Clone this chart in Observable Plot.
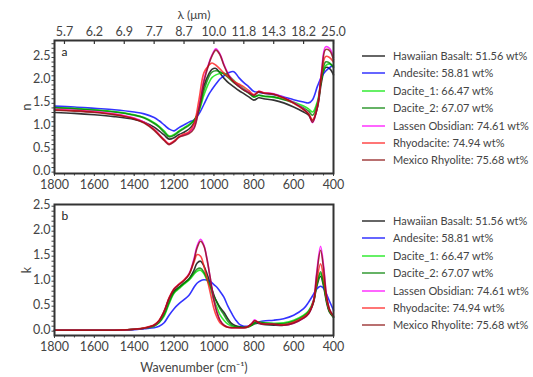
<!DOCTYPE html>
<html>
<head>
<meta charset="utf-8">
<script src="https://cdn.jsdelivr.net/npm/d3@7"></script>
<script src="https://cdn.jsdelivr.net/npm/@observablehq/plot@0.6"></script>
<style>
  html, body { margin: 0; padding: 0; background: #fff; }
  #wrap { position: relative; width: 533px; height: 377px; font-family: Lato, "Open Sans", sans-serif; overflow: hidden; }
  #wrap svg { position: absolute; left: 0; overflow: visible; }
  .lgd { position: absolute; left: 362px; font-size: 11px; color: #444; }
  .lgd .row { position: absolute; left: 0; height: 14px; white-space: nowrap; }
  .lgd .sw { position: absolute; left: 0; top: 6px; width: 23px; height: 2px; }
  .lgd .lb { position: absolute; left: 31px; top: 0; line-height: 14px; }
</style>
</head>
<body>
<div id="wrap"></div>
<script>
// ---------------- data ----------------
const seriesNames = ["Hawaiian Basalt: 51.56 wt%", "Andesite: 58.81 wt%", "Dacite_1: 66.47 wt%", "Dacite_2: 67.07 wt%", "Lassen Obsidian: 74.61 wt%", "Rhyodacite: 74.94 wt%", "Mexico Rhyolite: 75.68 wt%"];
const seriesColors = ["#000000", "#0000ff", "#00e600", "#008000", "#ff00ff", "#ff1a1a", "#8b1010"];

// refractive index n, wavenumber grid (cm^-1)
const wnN = [1800,1700,1600,1500,1400,1350,1300,1275,1250,1225,1200,1175,1150,1125,1100,1075,1050,1025,1010,990,970,950,925,900,875,850,825,800,775,750,700,650,600,550,525,505,480,460,440,420,400];
const nBasalt   = [1.30,1.28,1.25,1.21,1.15,1.09,0.98,0.90,0.81,0.72,0.75,0.82,0.87,0.94,1.07,1.38,1.88,2.15,2.24,2.26,2.16,2.05,1.94,1.86,1.78,1.71,1.64,1.57,1.62,1.60,1.57,1.51,1.42,1.31,1.24,1.13,1.42,1.97,2.28,2.26,2.12];
const nAndesite = [1.44,1.42,1.39,1.36,1.31,1.27,1.19,1.12,1.03,0.94,0.90,0.97,1.03,1.09,1.14,1.27,1.48,1.70,1.80,1.92,2.03,2.10,2.17,2.19,2.06,1.95,1.86,1.76,1.74,1.72,1.69,1.64,1.58,1.53,1.51,1.58,1.88,2.08,2.20,2.28,2.33];
const nDacite1  = [1.41,1.39,1.36,1.32,1.25,1.19,1.08,1.00,0.90,0.79,0.82,0.90,0.97,1.04,1.13,1.33,1.68,1.95,2.06,2.12,2.15,2.16,2.10,2.00,1.90,1.82,1.74,1.64,1.67,1.65,1.63,1.59,1.53,1.44,1.38,1.31,1.55,2.05,2.32,2.36,2.30];
const nDacite2  = [1.40,1.38,1.35,1.31,1.24,1.18,1.06,0.98,0.87,0.77,0.80,0.88,0.95,1.02,1.12,1.36,1.78,2.08,2.18,2.21,2.19,2.14,2.05,1.95,1.87,1.79,1.72,1.64,1.68,1.66,1.64,1.58,1.51,1.40,1.33,1.24,1.50,2.05,2.40,2.38,2.28];
const nLassen   = [1.37,1.35,1.32,1.27,1.18,1.09,0.93,0.82,0.71,0.61,0.67,0.77,0.81,0.86,0.98,1.42,2.02,2.38,2.55,2.69,2.58,2.35,2.12,1.98,1.88,1.80,1.74,1.68,1.76,1.73,1.71,1.63,1.52,1.38,1.27,1.08,1.45,2.20,2.73,2.70,2.50];
const nRhyodac  = [1.36,1.34,1.31,1.26,1.17,1.08,0.93,0.82,0.71,0.62,0.68,0.78,0.83,0.88,1.05,1.58,2.17,2.33,2.38,2.33,2.25,2.16,2.07,1.98,1.92,1.86,1.78,1.69,1.76,1.73,1.70,1.61,1.50,1.36,1.27,1.14,1.45,2.12,2.52,2.50,2.40];
const nMexico   = [1.35,1.33,1.30,1.25,1.16,1.07,0.91,0.80,0.69,0.60,0.66,0.76,0.80,0.84,0.95,1.38,1.98,2.36,2.53,2.66,2.56,2.33,2.10,1.96,1.87,1.79,1.73,1.67,1.75,1.72,1.70,1.62,1.51,1.37,1.26,1.09,1.43,2.15,2.67,2.65,2.45];

// extinction coefficient k, wavenumber grid (cm^-1)
const wnK = [1800,1600,1500,1400,1350,1300,1275,1250,1225,1200,1175,1150,1125,1100,1085,1067,1050,1035,1020,1000,985,970,950,930,910,890,870,850,830,810,795,780,760,740,700,650,600,550,525,500,485,465,450,435,420,400];
const kBasalt   = [0.02,0.02,0.02,0.04,0.06,0.12,0.20,0.38,0.65,0.80,0.88,0.96,1.05,1.22,1.36,1.40,1.30,1.15,0.98,0.72,0.58,0.48,0.38,0.25,0.15,0.11,0.09,0.08,0.09,0.12,0.15,0.16,0.14,0.13,0.12,0.12,0.17,0.27,0.36,0.58,0.88,1.10,0.90,0.58,0.38,0.28];
const kAndesite = [0.02,0.02,0.02,0.03,0.05,0.07,0.10,0.17,0.32,0.45,0.55,0.63,0.72,0.88,0.96,1.01,1.03,1.02,1.00,0.93,0.88,0.80,0.68,0.50,0.35,0.22,0.13,0.10,0.10,0.14,0.17,0.18,0.20,0.21,0.22,0.25,0.32,0.45,0.58,0.74,0.84,0.90,0.86,0.74,0.60,0.42];
const kDacite1  = [0.02,0.02,0.02,0.04,0.06,0.10,0.17,0.30,0.55,0.76,0.85,0.94,1.02,1.14,1.20,1.22,1.15,1.02,0.90,0.62,0.48,0.33,0.22,0.14,0.10,0.08,0.07,0.07,0.08,0.12,0.16,0.18,0.18,0.17,0.16,0.17,0.22,0.32,0.41,0.62,0.92,1.15,0.95,0.62,0.40,0.28];
const kDacite2  = [0.02,0.02,0.02,0.04,0.06,0.11,0.18,0.33,0.58,0.78,0.87,0.96,1.04,1.17,1.24,1.26,1.18,1.06,0.92,0.70,0.58,0.45,0.33,0.20,0.12,0.09,0.08,0.08,0.09,0.13,0.17,0.18,0.17,0.16,0.15,0.15,0.20,0.30,0.39,0.60,0.92,1.19,0.97,0.62,0.40,0.28];
const kLassen   = [0.02,0.02,0.02,0.04,0.06,0.12,0.21,0.40,0.66,0.85,0.94,1.02,1.15,1.45,1.70,1.84,1.72,1.45,1.10,0.62,0.38,0.22,0.12,0.08,0.07,0.07,0.07,0.07,0.09,0.16,0.23,0.18,0.15,0.14,0.14,0.12,0.16,0.26,0.35,0.62,1.15,1.70,1.32,0.72,0.44,0.30];
const kRhyodac  = [0.02,0.02,0.02,0.04,0.07,0.13,0.22,0.40,0.67,0.85,0.94,1.03,1.14,1.38,1.53,1.50,1.30,1.06,0.80,0.45,0.28,0.17,0.11,0.08,0.07,0.07,0.07,0.07,0.09,0.15,0.21,0.18,0.15,0.14,0.14,0.13,0.18,0.28,0.37,0.60,0.98,1.35,1.08,0.66,0.42,0.30];
const kMexico   = [0.02,0.02,0.02,0.04,0.06,0.12,0.21,0.39,0.65,0.84,0.93,1.01,1.13,1.42,1.66,1.80,1.70,1.44,1.10,0.62,0.38,0.22,0.12,0.08,0.07,0.07,0.07,0.07,0.09,0.15,0.21,0.18,0.15,0.14,0.14,0.12,0.16,0.26,0.35,0.60,1.10,1.62,1.26,0.70,0.44,0.30];

// axis ticks
const wnTicks = [1800,1600,1400,1200,1000,800,600,400];
const lambdaTickWn = [1750,1600,1450,1300,1150,1000,850,700,550,400];
const lambdaLabels = ["5.7","6.2","6.9","7.7","8.7","10.0","11.8","14.3","18.2","25.0"];
const yTicks = [0,0.5,1.0,1.5,2.0,2.5];

// ---------------- build ----------------
const nSeries = [nBasalt,nAndesite,nDacite1,nDacite2,nLassen,nRhyodac,nMexico];
const kSeries = [kBasalt,kAndesite,kDacite1,kDacite2,kLassen,kRhyodac,kMexico];
function rows(wn, series) {
  const out = [];
  series.forEach((vals, si) => vals.forEach((v, i) => out.push({wn: wn[i], v, s: seriesNames[si]})));
  return out;
}
const nRows = rows(wnN, nSeries);
const kRows = rows(wnK, kSeries);

const font = "Lato, 'Open Sans', sans-serif";
const wrap = document.getElementById("wrap");

function panel({data, yDomain, height, marginTop, marginBottom, tag, yLabel, top}) {
  const minorX = d3.range(400, 1801, 50);
  const minorY = d3.range(0, yDomain[1] + 1e-9, 0.1);
  const marks = [
    Plot.axisX({ticks: minorX, tickSize: 2.5, tickFormat: () => "", stroke: "#444", label: null}),
    Plot.axisX({ticks: wnTicks, tickSize: 3, tickPadding: 4, tickFormat: d => String(d), fontSize: 12.5, color: "#444", label: null}),
    Plot.axisY({ticks: minorY, tickSize: 2.5, tickFormat: () => "", stroke: "#444", label: null}),
    Plot.axisY({ticks: yTicks, tickSize: 0, tickPadding: 4, dy: -1.5, tickFormat: d3.format(".1f"), fontSize: 12.5, color: "#444", label: null}),
    Plot.axisY({ticks: [], tickSize: 0, label: yLabel, labelAnchor: "center", labelOffset: 32, labelArrow: "none", fontSize: 12.5, color: "#444"})
  ];
  if (!top) {
    marks.push(Plot.axisX({ticks: [], tickSize: 0, label: "Wavenumber (cm⁻¹)", labelAnchor: "center", labelOffset: 36, labelArrow: "none", fontSize: 12.5, color: "#444"}));
  }
  if (top) {
    marks.push(Plot.axisX({anchor: "top", ticks: lambdaTickWn, tickSize: 0, tickPadding: 5, tickFormat: d => lambdaLabels[lambdaTickWn.indexOf(d)], fontSize: 12.5, color: "#444", label: null}));
    marks.push(Plot.axisX({anchor: "top", ticks: [], tickSize: 0, label: "λ (μm)", labelAnchor: "center", labelOffset: 30, labelArrow: "none", fontSize: 12, color: "#444"}));
    marks.push(Plot.ruleX(lambdaTickWn, {x: d => d, y1: yDomain[1], y2: yDomain[1] - (yDomain[1] - yDomain[0]) * 0.03, stroke: "#333", strokeWidth: 1.2}));
  }
  marks.push(Plot.line(data, {x: "wn", y: "v", z: "s", stroke: "s", strokeWidth: 1.6, strokeOpacity: 0.8, curve: "catmull-rom"}));
  marks.push(Plot.frame({stroke: "#333", strokeWidth: 2}));
  marks.push(Plot.text([tag], {frameAnchor: "top-left", dx: 7, dy: 7, text: d => d, fontSize: 12, fill: "#222"}));
  const svg = Plot.plot({
    width: 345, height, marginLeft: 54, marginRight: 12, marginTop, marginBottom,
    style: {fontFamily: font, fontSize: "12px", background: "transparent", overflow: "visible", color: "#444"},
    x: {domain: [1800, 400], label: null},
    y: {domain: yDomain, label: null},
    color: {domain: seriesNames, range: seriesColors},
    marks
  });
  return svg;
}

const topSvg = panel({data: nRows, yDomain: [-0.03, 2.87], height: 192, marginTop: 40, marginBottom: 19, tag: "a", yLabel: "n", top: true});
topSvg.style.top = "0px";
wrap.appendChild(topSvg);

const botSvg = panel({data: kRows, yDomain: [-0.086, 2.534], height: 192, marginTop: 19, marginBottom: 42, tag: "b", yLabel: "k", top: false});
botSvg.style.top = "185px";
wrap.appendChild(botSvg);

function legend(topPx) {
  const div = document.createElement("div");
  div.className = "lgd";
  div.style.top = topPx + "px";
  seriesNames.forEach((name, i) => {
    const r = document.createElement("div");
    r.className = "row";
    r.style.top = Math.round(i * 17.4) + "px";
    const sw = document.createElement("div");
    sw.className = "sw";
    sw.style.background = seriesColors[i];
    sw.style.opacity = 0.6;
    const lb = document.createElement("div");
    lb.className = "lb";
    lb.textContent = name;
    r.appendChild(sw); r.appendChild(lb);
    div.appendChild(r);
  });
  wrap.appendChild(div);
}
legend(49);
legend(214);
</script>
</body>
</html>
